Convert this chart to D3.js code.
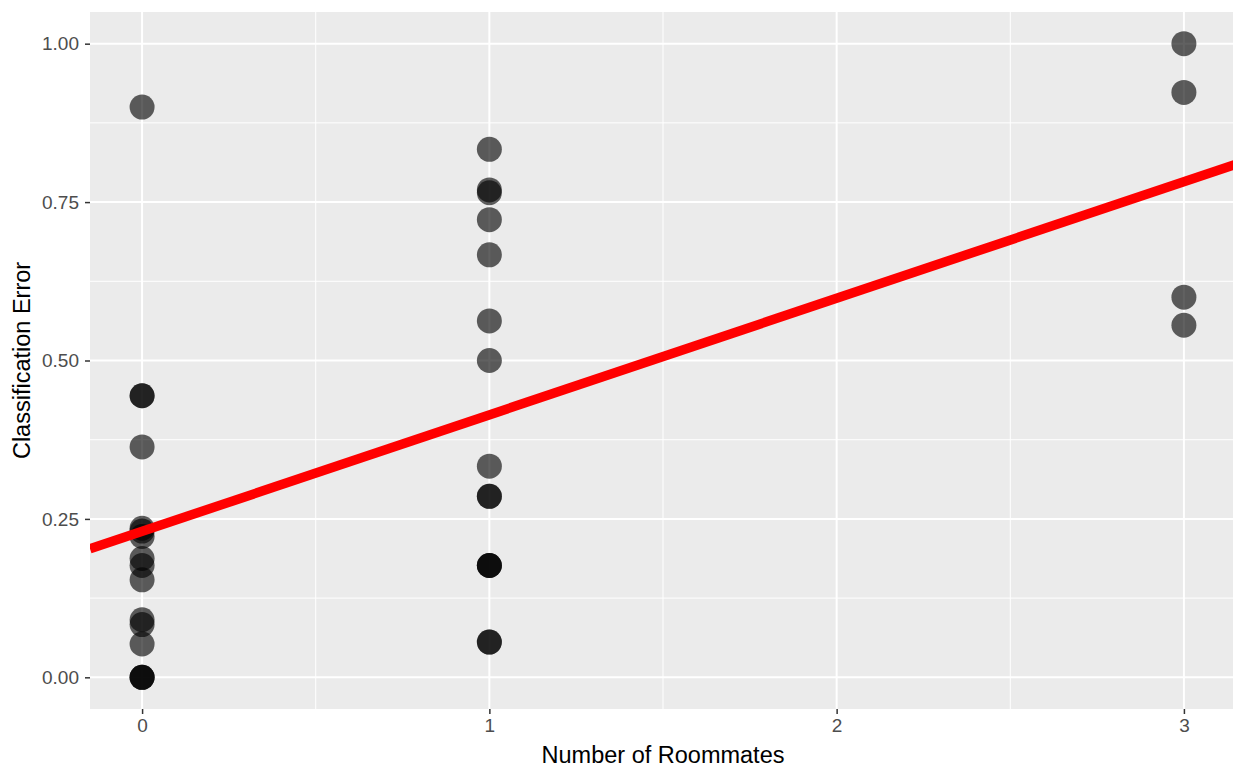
<!DOCTYPE html>
<html>
<head>
  <meta charset="utf-8">
  <title>Classification Error vs Number of Roommates</title>
  <script src="https://cdn.jsdelivr.net/npm/d3@7"></script>
  <style>
    body { margin: 0; background: #fff; }
    text { font-family: "Liberation Sans", Arial, Helvetica, sans-serif; }
  </style>
</head>
<body>
<script>
  // roommates count for each observation
  var roommates = [
    0, 0, 0, 0, 0, 0, 0, 0, 0, 0, 0, 0, 0, 0, 0, 0,
    1, 1, 1, 1, 1, 1, 1, 1, 1, 1, 1, 1, 1, 1, 1,
    3, 3, 3, 3
  ];
  // classification error for each observation
  var errors = [
    0.9, 0.4444, 0.4444, 0.3636, 0.2353, 0.2308, 0.2222, 0.1875, 0.1765, 0.1538, 0.0909, 0.0833, 0.0526, 0, 0, 0,
    0.8333, 0.7692, 0.7647, 0.7222, 0.6667, 0.5625, 0.5, 0.3333, 0.2857, 0.2857, 0.1765, 0.1765, 0.1765, 0.0556, 0.0556,
    1.0, 0.9231, 0.6, 0.5556
  ];
  var xTicks = [0, 1, 2, 3];
  var yTicks = [0, 0.25, 0.5, 0.75, 1];
  var xMinor = [0.5, 1.5, 2.5];
  var yMinor = [0.125, 0.375, 0.625, 0.875];

  var width = 1233;
  var height = 769;
  var panel = { left: 90, top: 12, right: 1236, bottom: 709 };

  var data = roommates.map(function(r, i) { return { x: r, y: errors[i] }; });

  var xScale = d3.scaleLinear().domain([-0.15, 3.15]).range([panel.left, panel.right]);
  var yScale = d3.scaleLinear().domain([-0.05, 1.05]).range([panel.bottom, panel.top]);

  // least squares fit
  var mx = d3.mean(data, function(d) { return d.x; });
  var my = d3.mean(data, function(d) { return d.y; });
  var sxy = d3.sum(data, function(d) { return (d.x - mx) * (d.y - my); });
  var sxx = d3.sum(data, function(d) { return (d.x - mx) * (d.x - mx); });
  var slope = sxy / sxx;
  var intercept = my - slope * mx;

  var svg = d3.select("body")
    .append("svg")
    .attr("width", width)
    .attr("height", height);

  svg.append("defs").append("clipPath").attr("id", "clip")
    .append("rect")
    .attr("x", panel.left).attr("y", panel.top)
    .attr("width", panel.right - panel.left).attr("height", panel.bottom - panel.top);

  svg.append("rect")
    .attr("x", panel.left)
    .attr("y", panel.top)
    .attr("width", panel.right - panel.left)
    .attr("height", panel.bottom - panel.top)
    .attr("fill", "#ebebeb");

  var grid = svg.append("g");
  grid.selectAll(".ymin").data(yMinor).enter().append("line")
    .attr("x1", panel.left).attr("x2", panel.right)
    .attr("y1", function(d) { return yScale(d); }).attr("y2", function(d) { return yScale(d); })
    .attr("stroke", "#fff").attr("stroke-width", 1);
  grid.selectAll(".xmin").data(xMinor).enter().append("line")
    .attr("y1", panel.top).attr("y2", panel.bottom)
    .attr("x1", function(d) { return xScale(d); }).attr("x2", function(d) { return xScale(d); })
    .attr("stroke", "#fff").attr("stroke-width", 1);
  grid.selectAll(".ymaj").data(yTicks).enter().append("line")
    .attr("x1", panel.left).attr("x2", panel.right)
    .attr("y1", function(d) { return yScale(d); }).attr("y2", function(d) { return yScale(d); })
    .attr("stroke", "#fff").attr("stroke-width", 2);
  grid.selectAll(".xmaj").data(xTicks).enter().append("line")
    .attr("y1", panel.top).attr("y2", panel.bottom)
    .attr("x1", function(d) { return xScale(d); }).attr("x2", function(d) { return xScale(d); })
    .attr("stroke", "#fff").attr("stroke-width", 2);

  svg.append("g")
    .selectAll("circle")
    .data(data)
    .enter()
    .append("circle")
    .attr("cx", function(d) { return xScale(d.x); })
    .attr("cy", function(d) { return yScale(d.y); })
    .attr("r", 12.5)
    .attr("fill", "black")
    .attr("fill-opacity", 0.62);

  var x0 = xScale.domain()[0], x1 = xScale.domain()[1];
  svg.append("line")
    .attr("clip-path", "url(#clip)")
    .attr("x1", xScale(x0)).attr("y1", yScale(intercept + slope * x0))
    .attr("x2", xScale(x1)).attr("y2", yScale(intercept + slope * x1))
    .attr("stroke", "#ff0000")
    .attr("stroke-width", 9.5);

  // axes
  var xAxis = svg.append("g")
    .attr("transform", "translate(0," + panel.bottom + ")")
    .call(d3.axisBottom(xScale).tickValues(xTicks).tickFormat(d3.format("d")).tickSize(5).tickPadding(5));
  var yAxis = svg.append("g")
    .attr("transform", "translate(" + panel.left + ",0)")
    .call(d3.axisLeft(yScale).tickValues(yTicks).tickFormat(d3.format(".2f")).tickSize(5).tickPadding(6));

  [xAxis, yAxis].forEach(function(ax) {
    ax.select(".domain").remove();
    ax.selectAll(".tick line").attr("stroke", "#333").attr("stroke-width", 1.5);
    ax.selectAll(".tick text").attr("fill", "#4d4d4d").style("font-size", "19px");
  });

  svg.append("text")
    .attr("x", (panel.left + panel.right) / 2)
    .attr("y", 763)
    .attr("text-anchor", "middle")
    .style("font-size", "23.5px")
    .attr("fill", "black")
    .text("Number of Roommates");

  svg.append("text")
    .attr("transform", "translate(30," + ((panel.top + panel.bottom) / 2) + ") rotate(-90)")
    .attr("text-anchor", "middle")
    .style("font-size", "23.5px")
    .attr("fill", "black")
    .text("Classification Error");
</script>
</body>
</html>
